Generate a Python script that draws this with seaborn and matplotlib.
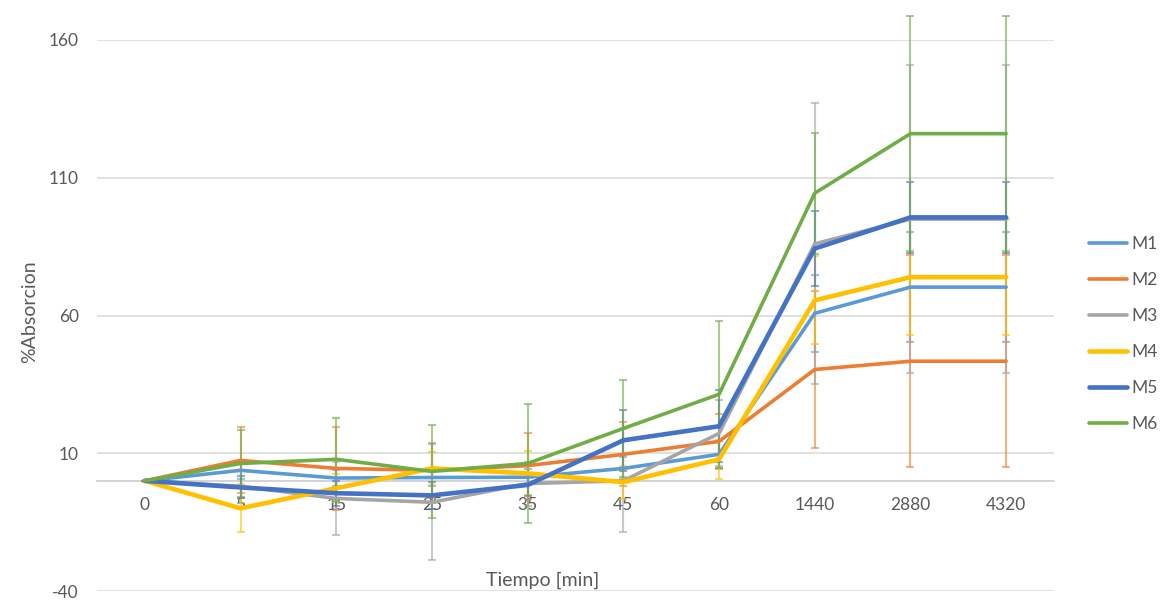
import numpy as np
import pandas as pd
import matplotlib
matplotlib.use("Agg")
import matplotlib.pyplot as plt
from matplotlib.lines import Line2D
import seaborn as sns

# Time points (minutes) shown as evenly spaced categories
tiempos = ["0", "5", "15", "25", "35", "45", "60", "1440", "2880", "4320"]

# Mean absorption (%) per sample
m1 = [0, 3.8, 1.0, 1.2, 1.3, 4.5, 9.6, 60.8, 70.3, 70.3]
m2 = [0, 7.4, 4.5, 3.8, 5.5, 9.6, 14.3, 40.4, 43.4, 43.4]
m3 = [0, -2.0, -6.4, -7.8, -1.0, 0.0, 17.2, 86.0, 95.0, 95.0]
m4 = [0, -10.0, -2.7, 4.5, 2.7, -0.5, 7.8, 65.5, 73.9, 73.9]
m5 = [0, -2.4, -4.5, -5.3, -1.5, 14.7, 19.8, 84.3, 95.6, 95.6]
m6 = [0, 6.3, 7.8, 3.4, 6.3, 19.0, 31.4, 104.4, 126.0, 126.0]

# Standard deviations per sample
m1_err = [0, 3, 3, 3, 3, 4, 5, 14, 20, 20]
m2_err = [0, 12, 15, 10, 12, 11.6, 10, 28.6, 38.4, 38.4]
m3_err = [0, 6, 13.4, 21, 8, 18.7, 12, 51, 56, 56]
m4_err = [0, 8.7, 5, 6, 8, 6, 7, 16, 21, 21]
m5_err = [0, 4, 4.5, 5, 4, 11, 13, 13.5, 13, 13]
m6_err = [0, 12, 15, 17, 21.5, 17.5, 26.6, 22, 42.6, 42.6]

series = ["M1", "M2", "M3", "M4", "M5", "M6"]
means = [m1, m2, m3, m4, m5, m6]
errs = [m1_err, m2_err, m3_err, m4_err, m5_err, m6_err]
colors = ["#5B9BD5", "#ED7D31", "#A5A5A5", "#FFC000", "#4472C4", "#70AD47"]
widths = [2.6, 2.6, 2.6, 3.3, 3.3, 2.6]

rows = []
for name, vals, ev in zip(series, means, errs):
    for i, (v, e) in enumerate(zip(vals, ev)):
        rows.append({"pos": i, "tiempo": tiempos[i], "serie": name, "valor": v, "sd": e})
df = pd.DataFrame(rows)

sns.set_style("white")
plt.rcParams["font.family"] = ["Lato", "DejaVu Sans"]
plt.rcParams["axes.unicode_minus"] = False

fig = plt.figure(figsize=(11.73, 6.05), dpi=100)
ax = fig.add_axes([97 / 1173, 1 - 591 / 605, (1054 - 97) / 1173, (591 - 40) / 605])

text_color = "#595959"

for name, col, lw in zip(series, colors, widths):
    sub = df[df["serie"] == name]
    ax.errorbar(sub["pos"], sub["valor"], yerr=sub["sd"], fmt="none",
                ecolor=col, alpha=0.6, elinewidth=1.5, capsize=3.2,
                capthick=1.5, zorder=1.5, clip_on=False)
    sns.lineplot(data=sub, x="pos", y="valor", color=col, linewidth=lw,
                 sort=False, ax=ax, zorder=2, legend=False,
                 solid_joinstyle="round", solid_capstyle="round")

ax.set_xlim(-0.5, len(tiempos) - 0.5)
ax.set_ylim(-40, 160)
ax.set_yticks([-40, 10, 60, 110, 160])
ax.yaxis.grid(True, color="#D9D9D9", linewidth=1.1)
ax.xaxis.grid(False)
ax.set_axisbelow(True)

for s in ["top", "right", "left"]:
    ax.spines[s].set_visible(False)
ax.spines["bottom"].set_position(("data", 0))
ax.spines["bottom"].set_color("#C8C8C8")
ax.spines["bottom"].set_linewidth(1.1)
ax.spines["bottom"].set_zorder(0.5)

ax.set_xticks(range(len(tiempos)))
ax.set_xticklabels(tiempos)
ax.tick_params(axis="x", length=0, pad=12, labelsize=12.5, labelcolor=text_color)
ax.tick_params(axis="y", length=0, pad=13, labelsize=12.5, labelcolor=text_color)
ax.set_xlabel("")
ax.set_ylabel("")

fig.text(543 / 1173, 1 - 580 / 605, "Tiempo [min]", ha="center", va="center",
         fontsize=14, color=text_color)
fig.text(30 / 1173, 1 - 312 / 605, "%Absorcion", ha="center", va="center",
         rotation=90, fontsize=14, color=text_color)

handles = [Line2D([0], [0], color=c, linewidth=lw) for c, lw in zip(colors, widths)]
leg = fig.legend(handles, series, loc="center left",
                 bbox_to_anchor=(1082 / 1173, 1 - 334 / 605), frameon=False,
                 fontsize=12.5, handlelength=2.2, handletextpad=0.25,
                 labelspacing=1.15, borderaxespad=0)
for t in leg.get_texts():
    t.set_color(text_color)

fig.savefig("out.png", dpi=100)
